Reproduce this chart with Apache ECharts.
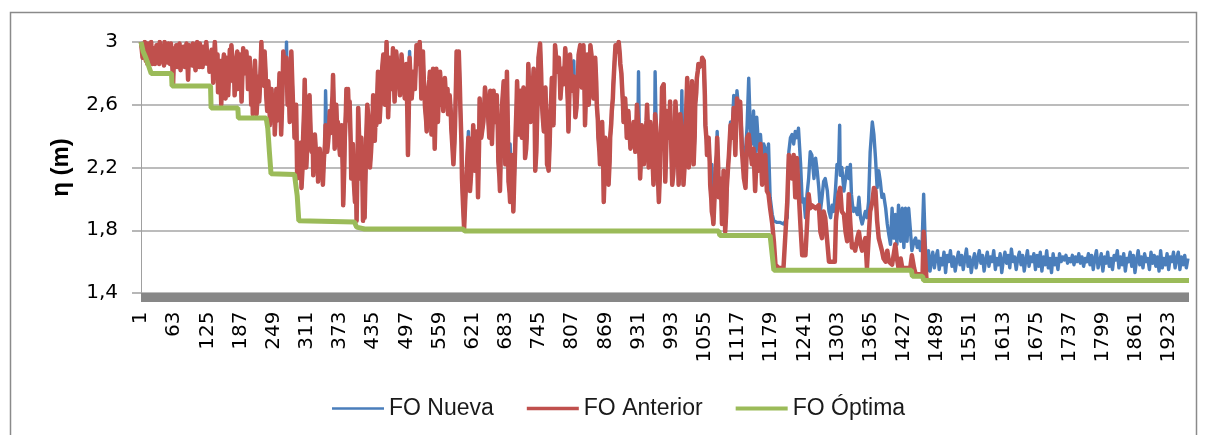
<!DOCTYPE html>
<html>
<head>
<meta charset="utf-8">
<script src="https://cdn.jsdelivr.net/npm/echarts@6/dist/echarts.min.js"></script>
<style>
html,body{margin:0;padding:0;background:#fff;}
#chart{width:1205px;height:435px;}
</style>
</head>
<body>
<div id="chart"></div>
<script>
// ---------- DATA ----------
const categoryCount = 1960;           // iterations 1..1960
const yTicks = [1.4, 1.8, 2.2, 2.6, 3.0];
const seriesNames = ['FO Nueva', 'FO Anterior', 'FO Óptima'];

// FO Anterior: [iteration, value]
const anteriorPts = [
[1,3.0],[2,3.0],[4,2.90],[5,2.96],[7,2.92],[8,3.0],[10,2.88],[11,2.93],[13,2.86],[14,2.99],[16,2.94],[17,2.91],[19,2.96],[20,3.0],[22,2.86],[23,2.90],[25,2.96],[27,2.86],[29,2.92],[30,2.98],[32,2.88],[33,2.92],[35,2.86],[36,3.0],[38,2.94],[39,2.88],[41,2.97],[42,2.90],[44,2.85],[45,3.0],[47,2.89],[48,2.93],[50,2.87],[52,2.99],[54,2.92],[55,2.86],[57,2.99],[58,2.95],[60,2.82],[61,2.73],[63,2.96],[64,2.90],[66,2.84],[67,2.98],[69,2.93],[70,2.84],[72,2.91],[73,2.99],[75,2.82],[76,2.88],[78,2.95],[80,2.97],[82,2.89],[83,2.84],[85,2.92],[86,2.99],[88,2.85],[89,2.76],[91,2.98],[92,2.95],[94,2.86],[95,2.90],[97,2.85],[98,2.99],[100,2.94],[101,2.88],[103,2.82],[104,2.96],[106,3.0],[108,2.90],[110,2.84],[111,2.99],[113,2.94],[114,2.89],[116,2.84],[117,2.97],[119,2.86],[120,2.92],[122,2.97],[123,3.0],[125,2.90],[126,2.86],[128,2.93],[129,2.81],[131,2.90],[133,2.95],[135,2.84],[136,2.74],[138,2.92],[139,3.0],[141,2.86],[142,2.80],[144,2.92],[145,2.68],[147,2.78],[148,2.88],[150,2.72],[151,2.60],[153,2.76],[154,2.85],[156,2.92],[157,2.70],[159,2.64],[161,2.90],[163,2.80],[164,2.66],[166,2.84],[167,2.95],[169,2.86],[170,2.98],[172,2.88],[173,2.75],[175,2.84],[176,2.66],[178,2.78],[179,2.88],[181,2.94],[182,2.70],[184,2.80],[186,2.92],[188,2.76],[189,2.62],[191,2.84],[192,2.96],[194,2.88],[195,2.80],[197,2.86],[198,2.94],[200,2.82],[201,2.70],[203,2.80],[204,2.90],[206,2.74],[207,2.60],[209,2.70],[210,2.54],[212,2.72],[214,2.88],[216,2.70],[217,2.54],[219,2.66],[220,2.78],[222,2.62],[223,2.69],[225,2.88],[226,3.0],[228,2.76],[229,2.85],[231,2.72],[232,2.94],[234,2.80],[235,2.66],[237,2.56],[239,2.75],[241,2.62],[242,2.47],[244,2.62],[245,2.70],[247,2.52],[248,2.58],[250,2.66],[251,2.41],[253,2.56],[254,2.70],[256,2.50],[257,2.60],[259,2.70],[260,2.80],[262,2.56],[263,2.41],[265,2.62],[267,2.94],[269,2.84],[270,2.78],[272,2.86],[273,2.90],[275,2.60],[276,2.70],[278,2.62],[279,2.49],[281,2.80],[282,2.94],[284,2.72],[285,2.62],[287,2.50],[288,2.39],[290,2.52],[291,2.60],[293,2.13],[296,2.30],[298,2.22],[300,2.36],[301,2.07],[303,2.20],[304,2.39],[306,2.58],[307,2.76],[309,2.42],[310,2.20],[312,2.35],[314,2.50],[316,2.66],[318,2.44],[320,2.30],[322,2.40],[323,2.15],[325,2.28],[326,2.41],[328,2.30],[329,2.20],[331,2.30],[332,2.11],[334,2.24],[335,2.32],[337,2.18],[338,2.28],[340,2.20],[341,2.09],[343,2.26],[345,2.35],[346,2.47],[349,2.30],[351,2.37],[353,2.48],[354,2.56],[356,2.42],[357,2.54],[359,2.66],[360,2.79],[362,2.50],[363,2.32],[365,2.46],[366,2.60],[368,2.40],[369,2.49],[371,2.36],[373,2.28],[375,2.40],[376,2.47],[378,2.20],[379,1.96],[381,2.20],[382,2.39],[384,2.56],[385,2.70],[387,2.60],[388,2.70],[390,2.50],[391,2.62],[393,2.36],[394,2.13],[396,2.24],[397,2.35],[399,2.10],[401,1.98],[403,2.10],[404,1.86],[406,2.30],[407,2.58],[409,2.36],[410,2.13],[412,2.26],[413,2.39],[415,2.10],[416,1.86],[418,2.10],[419,1.88],[421,2.20],[422,2.39],[424,2.60],[426,2.52],[428,2.36],[429,2.20],[431,2.30],[432,2.37],[434,2.52],[435,2.66],[437,2.50],[438,2.37],[440,2.56],[441,2.47],[443,2.70],[444,2.81],[446,2.60],[447,2.49],[449,2.62],[450,2.70],[452,2.84],[454,2.92],[456,2.74],[457,2.60],[459,2.84],[460,3.0],[462,2.70],[463,2.52],[465,2.72],[466,2.90],[468,2.78],[469,2.70],[471,2.86],[472,2.96],[474,2.74],[475,2.62],[477,2.80],[478,2.94],[480,2.86],[482,2.80],[484,2.72],[485,2.66],[487,2.80],[488,2.92],[490,2.82],[491,2.75],[493,2.70],[494,2.64],[496,2.78],[497,2.86],[499,2.52],[500,2.28],[502,2.64],[503,2.90],[505,2.76],[507,2.64],[509,2.74],[510,2.81],[512,2.76],[513,2.70],[515,2.88],[516,2.98],[518,2.90],[519,2.86],[521,2.94],[522,3.0],[524,2.80],[525,2.64],[527,2.80],[528,2.94],[530,2.72],[532,2.58],[534,2.50],[535,2.43],[537,2.58],[538,2.70],[540,2.76],[541,2.81],[543,2.56],[544,2.41],[546,2.66],[547,2.83],[549,2.56],[550,2.32],[552,2.60],[553,2.83],[555,2.64],[556,2.49],[558,2.70],[560,2.81],[562,2.70],[563,2.60],[565,2.66],[566,2.56],[568,2.68],[569,2.77],[571,2.66],[572,2.60],[574,2.70],[575,2.54],[577,2.60],[578,2.66],[580,2.56],[581,2.45],[583,2.34],[585,2.22],[587,2.36],[588,2.47],[590,2.76],[591,2.94],[593,2.86],[594,2.80],[595,2.94],[597,2.72],[598,2.58],[600,2.36],[601,2.13],[603,1.96],[605,1.81],[607,1.98],[609,2.13],[611,2.26],[613,2.39],[615,2.20],[616,2.05],[618,2.16],[619,2.28],[621,2.36],[622,2.47],[624,2.30],[625,2.18],[627,2.30],[628,2.43],[630,2.20],[631,2.01],[633,2.36],[634,2.64],[636,2.50],[637,2.39],[639,2.44],[641,2.49],[643,2.62],[644,2.71],[647,2.71],[650,2.52],[652,2.39],[654,2.69],[656,2.50],[657,2.35],[659,2.56],[660,2.69],[662,2.58],[663,2.49],[665,2.58],[666,2.66],[668,2.44],[669,2.24],[671,2.14],[672,2.05],[674,2.36],[676,2.60],[678,2.70],[679,2.75],[681,2.48],[682,2.22],[684,2.56],[685,2.81],[687,2.40],[688,2.11],[690,2.04],[691,1.98],[693,2.14],[694,2.28],[696,2.08],[697,1.92],[699,2.16],[701,2.39],[703,2.60],[704,2.75],[706,2.56],[707,2.41],[709,2.56],[710,2.69],[712,2.52],[713,2.39],[715,2.56],[716,2.71],[718,2.46],[719,2.26],[721,2.32],[722,2.39],[724,2.66],[725,2.86],[727,2.66],[729,2.49],[731,2.56],[732,2.64],[734,2.76],[735,2.83],[737,2.48],[738,2.18],[740,2.30],[741,2.45],[743,2.70],[744,2.90],[746,2.96],[747,2.99],[749,2.80],[750,2.64],[752,2.52],[754,2.43],[756,2.58],[757,2.71],[759,2.46],[760,2.22],[762,2.20],[763,2.18],[765,2.36],[766,2.52],[768,2.66],[769,2.77],[771,2.60],[772,2.47],[774,2.76],[775,2.98],[777,2.90],[778,2.81],[780,2.86],[782,2.90],[784,2.76],[785,2.64],[787,2.74],[788,2.83],[790,2.78],[791,2.73],[793,2.86],[794,2.96],[796,2.86],[797,2.77],[799,2.60],[800,2.43],[802,2.70],[803,2.92],[805,2.80],[806,2.69],[808,2.74],[810,2.78],[812,2.64],[813,2.52],[815,2.58],[816,2.66],[818,2.80],[819,2.92],[821,2.96],[822,2.98],[824,2.84],[825,2.71],[827,2.86],[828,2.98],[830,2.70],[831,2.47],[833,2.70],[835,2.92],[837,2.76],[838,2.60],[840,2.80],[841,2.98],[843,2.92],[844,2.86],[846,2.74],[847,2.64],[849,2.78],[850,2.90],[852,2.74],[853,2.60],[855,2.50],[856,2.39],[858,2.30],[859,2.22],[861,2.36],[863,2.49],[865,2.22],[866,1.98],[868,2.20],[869,2.39],[871,2.34],[872,2.28],[874,2.18],[875,2.09],[877,2.24],[878,2.39],[880,2.48],[881,2.56],[883,2.64],[884,2.73],[886,2.86],[888,2.98],[890,2.96],[891,2.94],[893,2.98],[894,3.0],[896,2.92],[897,2.86],[899,2.80],[900,2.73],[902,2.60],[903,2.49],[905,2.56],[906,2.64],[908,2.50],[909,2.39],[911,2.48],[912,2.56],[914,2.44],[916,2.32],[918,2.36],[919,2.39],[921,2.44],[922,2.49],[924,2.40],[925,2.30],[927,2.46],[928,2.60],[930,2.50],[931,2.39],[933,2.26],[934,2.13],[936,2.30],[937,2.47],[939,2.34],[941,2.22],[943,2.30],[944,2.39],[946,2.50],[947,2.60],[949,2.40],[950,2.20],[952,2.36],[953,2.49],[955,2.38],[956,2.28],[958,2.18],[959,2.09],[961,2.32],[962,2.54],[964,2.46],[965,2.39],[967,2.18],[969,1.98],[971,2.16],[972,2.32],[974,2.52],[975,2.71],[977,2.72],[978,2.73],[980,2.42],[981,2.11],[983,2.34],[984,2.56],[986,2.48],[987,2.39],[989,2.50],[990,2.62],[992,2.36],[994,2.09],[996,2.16],[997,2.22],[999,2.42],[1000,2.62],[1002,2.50],[1003,2.39],[1005,2.24],[1006,2.09],[1008,2.32],[1009,2.54],[1011,2.46],[1012,2.39],[1014,2.24],[1015,2.09],[1017,2.20],[1018,2.32],[1020,2.54],[1022,2.77],[1024,2.48],[1025,2.20],[1027,2.34],[1028,2.49],[1030,2.62],[1031,2.75],[1033,2.48],[1034,2.22],[1036,2.40],[1037,2.60],[1039,2.68],[1040,2.77],[1042,2.82],[1043,2.86],[1045,2.84],[1047,2.83],[1049,2.86],[1050,2.90],[1052,2.89],[1053,2.88],[1055,2.66],[1056,2.47],[1058,2.38],[1059,2.28],[1061,2.34],[1062,2.39],[1064,2.24],[1065,2.09],[1067,2.00],[1068,1.92],[1070,1.88],[1071,1.84],[1073,2.00],[1075,2.18],[1077,2.28],[1078,2.39],[1080,2.20],[1081,2.01],[1083,2.07],[1084,2.13],[1086,1.98],[1087,1.84],[1089,2.00],[1090,2.18],[1092,1.98],[1093,1.79],[1095,1.92],[1096,2.07],[1098,2.18],[1100,2.28],[1103,2.47],[1106,2.39],[1109,2.58],[1112,2.28],[1115,2.64],[1118,2.54],[1121,2.62],[1124,2.32],[1128,2.13],[1131,2.07],[1134,2.39],[1137,2.41],[1140,2.41],[1143,2.22],[1146,2.32],[1149,2.05],[1152,2.28],[1156,2.18],[1159,2.35],[1162,2.09],[1165,2.18],[1168,2.28],[1171,2.05],[1174,2.03],[1177,1.94],[1181,1.84],[1184,1.73],[1187,1.58],[1193,1.56],[1202,1.56],[1209,1.98],[1212,2.28],[1215,2.22],[1218,2.13],[1221,2.28],[1224,2.01],[1227,2.26],[1230,2.07],[1234,1.81],[1237,1.64],[1243,1.64],[1246,1.64],[1249,2.03],[1252,1.94],[1255,1.96],[1262,1.94],[1268,1.96],[1271,1.79],[1274,1.75],[1277,1.92],[1280,1.88],[1287,1.60],[1298,1.60],[1300,1.86],[1305,2.03],[1308,2.07],[1311,1.92],[1315,1.90],[1318,1.79],[1321,1.73],[1324,2.03],[1327,1.84],[1330,1.69],[1333,1.71],[1336,1.67],[1340,1.75],[1343,1.79],[1346,1.71],[1349,1.67],[1355,1.75],[1358,1.56],[1361,1.56],[1364,1.92],[1368,1.98],[1371,2.07],[1374,2.05],[1377,1.86],[1380,1.75],[1383,1.71],[1386,1.67],[1389,1.62],[1393,1.60],[1396,1.67],[1399,1.60],[1405,1.58],[1411,1.71],[1414,1.62],[1417,1.56],[1421,1.62],[1424,1.56],[1439,1.56],[1442,1.64],[1446,1.56],[1449,1.52],[1462,1.52],[1464,1.79],[1466,1.79],[1469,1.50],[1470,1.48],[1960,1.48]
];

// FO Nueva: where it rises above FO Anterior before iteration 1100
const nuevaSpikes = [[273,3.0],[346,2.69],[503,2.94],[613,2.43],[691,2.35],[810,2.88],[931,2.81],[962,2.81],[1012,2.69],[1068,2.22],[1078,2.43]];
// FO Nueva: iterations 1100..1476
const nuevaLate = [
[1100,2.28],[1103,2.49],[1106,2.41],[1109,2.66],[1112,2.45],[1115,2.69],[1118,2.58],[1121,2.62],[1124,2.41],[1128,2.20],[1131,2.28],[1134,2.47],[1137,2.77],[1140,2.45],[1143,2.35],[1146,2.56],[1149,2.28],[1152,2.52],[1156,2.30],[1159,2.41],[1162,2.26],[1165,2.35],[1168,2.32],[1171,2.20],[1174,2.35],[1177,2.01],[1181,1.90],[1184,1.86],[1187,1.86],[1190,1.85],[1193,1.86],[1196,1.85],[1199,1.86],[1202,1.84],[1206,1.86],[1209,1.88],[1212,2.30],[1215,2.39],[1218,2.41],[1221,2.35],[1224,2.43],[1227,2.39],[1230,2.45],[1234,2.22],[1237,1.98],[1240,2.00],[1243,1.88],[1246,2.03],[1249,2.13],[1252,2.30],[1255,2.28],[1259,2.13],[1262,2.26],[1265,2.18],[1268,2.07],[1271,1.92],[1274,2.01],[1277,2.11],[1280,2.13],[1284,2.05],[1287,1.92],[1290,1.88],[1293,1.96],[1296,1.92],[1299,2.05],[1302,2.22],[1305,2.20],[1307,2.47],[1308,2.15],[1311,2.20],[1315,2.05],[1318,2.13],[1321,2.20],[1324,2.13],[1327,2.22],[1329,2.03],[1331,1.96],[1333,1.92],[1336,1.94],[1340,1.90],[1343,2.01],[1346,1.88],[1349,1.84],[1352,1.88],[1355,1.92],[1358,1.88],[1361,1.98],[1364,2.30],[1368,2.49],[1371,2.41],[1374,2.26],[1377,2.07],[1380,2.18],[1383,2.11],[1386,2.01],[1389,2.03],[1393,1.94],[1396,1.84],[1399,1.77],[1402,1.71],[1405,1.94],[1408,1.75],[1411,1.90],[1414,1.71],[1417,1.96],[1421,1.73],[1424,1.94],[1427,1.69],[1430,1.94],[1433,1.73],[1436,1.94],[1439,1.81],[1442,1.67],[1446,1.73],[1449,1.75],[1452,1.69],[1455,1.73],[1458,1.67],[1461,1.71],[1464,2.03],[1467,1.71],[1470,1.54],[1473,1.67],[1476,1.54]
];
// FO Nueva: iterations 1478, 1481, ... (read every 3 iterations)
const nuevaTailStart = 1478, nuevaTailStep = 3;
const nuevaTail = [
1.60,1.66,1.56,1.63,1.67,1.55,1.62,1.58,1.66,1.53,1.64,1.60,1.67,1.57,1.63,1.54,1.61,1.66,1.58,1.64,
1.55,1.62,1.68,1.57,1.63,1.53,1.60,1.65,1.56,1.62,1.67,1.59,1.64,1.54,1.61,1.66,1.57,1.63,1.60,1.67,
1.55,1.62,1.58,1.65,1.53,1.61,1.66,1.59,1.64,1.56,1.68,1.60,1.63,1.55,1.62,1.66,1.58,1.64,1.54,1.61,
1.67,1.57,1.63,1.60,1.65,1.55,1.64,1.57,1.66,1.54,1.63,1.58,1.67,1.56,1.62,1.53,1.65,1.58,1.62,1.55,
1.65,1.60,1.63,1.61,1.64,1.59,1.62,1.60,1.64,1.58,1.63,1.60,1.65,1.59,1.63,1.57,1.62,1.60,1.65,1.58,
1.64,1.55,1.62,1.67,1.56,1.60,1.65,1.54,1.63,1.59,1.66,1.57,1.62,1.55,1.64,1.61,1.67,1.56,1.63,1.58,
1.65,1.54,1.62,1.60,1.66,1.57,1.64,1.53,1.61,1.67,1.58,1.63,1.56,1.65,1.60,1.62,1.55,1.66,1.59,1.64,
1.57,1.63,1.54,1.67,1.56,1.62,1.58,1.65,1.55,1.63,1.60,1.66,1.56,1.62,1.66,1.55,1.63,1.58,1.64,1.56,1.62
];

// FO Óptima (best so far): [iteration, value]
const optimaPts = [
[1,3.0],[5,2.94],[10,2.90],[15,2.85],[20,2.80],[58,2.80],[59,2.72],[131,2.72],[132,2.58],[182,2.58],[183,2.515],[235,2.515],[238,2.45],[241,2.30],[244,2.16],[288,2.155],[290,2.10],[293,2.02],[296,1.86],[400,1.853],[404,1.82],[419,1.808],[603,1.808],[606,1.795],[1081,1.795],[1083,1.767],[1177,1.767],[1184,1.545],[1441,1.545],[1443,1.506],[1462,1.506],[1464,1.48],[1960,1.48]
];

// ---------- BUILD ----------
const categories = [];
for (let i = 1; i <= categoryCount; i++) categories.push(String(i));

const spikeMap = {};
nuevaSpikes.forEach(p => { spikeMap[p[0]] = p[1]; });
const toCat = p => [String(p[0]), p[1]];

const nuevaData = anteriorPts.filter(p => p[0] < 1100)
  .map(p => [p[0], spikeMap[p[0]] !== undefined ? spikeMap[p[0]] : p[1]])
  .concat(nuevaLate)
  .concat(nuevaTail.map((v, i) => [nuevaTailStart + i * nuevaTailStep, v]))
  .map(toCat);
const anteriorData = anteriorPts.map(toCat);
const optimaData = optimaPts.map(toCat);

const colors = ['#4a7ebb', '#c0504d', '#9bbb59'];
const widths = [3.4, 4.5, 5];
// legend line icons of different thickness inside a 52x14 box
const lineIcon = w => 'path://M0,0 M52,14 M0,' + (7 - w / 2) + ' L52,' + (7 - w / 2) + ' L52,' + (7 + w / 2) + ' L0,' + (7 + w / 2) + ' Z';

const chart = echarts.init(document.getElementById('chart'), null, {renderer: 'canvas'});
const axisFont = 'DejaVu Sans';
chart.setOption({
  animation: false,
  backgroundColor: '#ffffff',
  graphic: [{
    type: 'rect', silent: true, z: -1,
    shape: {x: 10.5, y: 12.5, width: 1186, height: 440},
    style: {fill: 'none', stroke: '#8a8a8a', lineWidth: 1.5}
  }],
  grid: {left: 141, right: 16, top: 42, bottom: 142, containLabel: false},
  legend: {
    data: seriesNames.map((n, i) => ({name: n, icon: lineIcon(widths[i] - 1), itemStyle: {color: colors[i]}})),
    left: 327, top: 392,
    itemWidth: 52, itemHeight: 14, itemGap: 33,
    textStyle: {fontFamily: 'Liberation Sans', fontSize: 23, color: '#1a1a1a'}
  },
  xAxis: {
    type: 'category',
    data: categories,
    boundaryGap: false,
    offset: 4.5,
    axisLine: {lineStyle: {color: '#878787', width: 9, cap: 'butt'}},
    axisTick: {show: false},
    splitLine: {show: false},
    axisLabel: {interval: 61, rotate: 90, margin: 14, fontFamily: axisFont, fontSize: 20, color: '#000'}
  },
  yAxis: {
    type: 'value',
    min: yTicks[0], max: yTicks[yTicks.length - 1], interval: 0.4,
    name: 'η (m)', nameLocation: 'middle', nameGap: 68,
    nameTextStyle: {fontFamily: 'Liberation Sans', fontSize: 24, fontWeight: 'bold', color: '#000'},
    axisLine: {show: true, lineStyle: {color: '#a0a0a0', width: 1}},
    axisTick: {show: true, length: 9, lineStyle: {color: '#a0a0a0', width: 1.5}},
    splitLine: {lineStyle: {color: '#a6a6a6', width: 1.5}},
    axisLabel: {
      margin: 23, fontFamily: axisFont, fontSize: 20, color: '#000',
      formatter: v => String(Math.round(v * 10) / 10).replace('.', ',')
    }
  },
  series: [
    {name: seriesNames[0], type: 'line', data: nuevaData, symbol: 'none', lineStyle: {color: colors[0], width: widths[0], join: 'round'}, itemStyle: {color: colors[0]}},
    {name: seriesNames[1], type: 'line', data: anteriorData, symbol: 'none', lineStyle: {color: colors[1], width: widths[1], join: 'round'}, itemStyle: {color: colors[1]}},
    {name: seriesNames[2], type: 'line', data: optimaData, symbol: 'none', lineStyle: {color: colors[2], width: widths[2]}, itemStyle: {color: colors[2]}}
  ]
});
</script>
</body>
</html>
